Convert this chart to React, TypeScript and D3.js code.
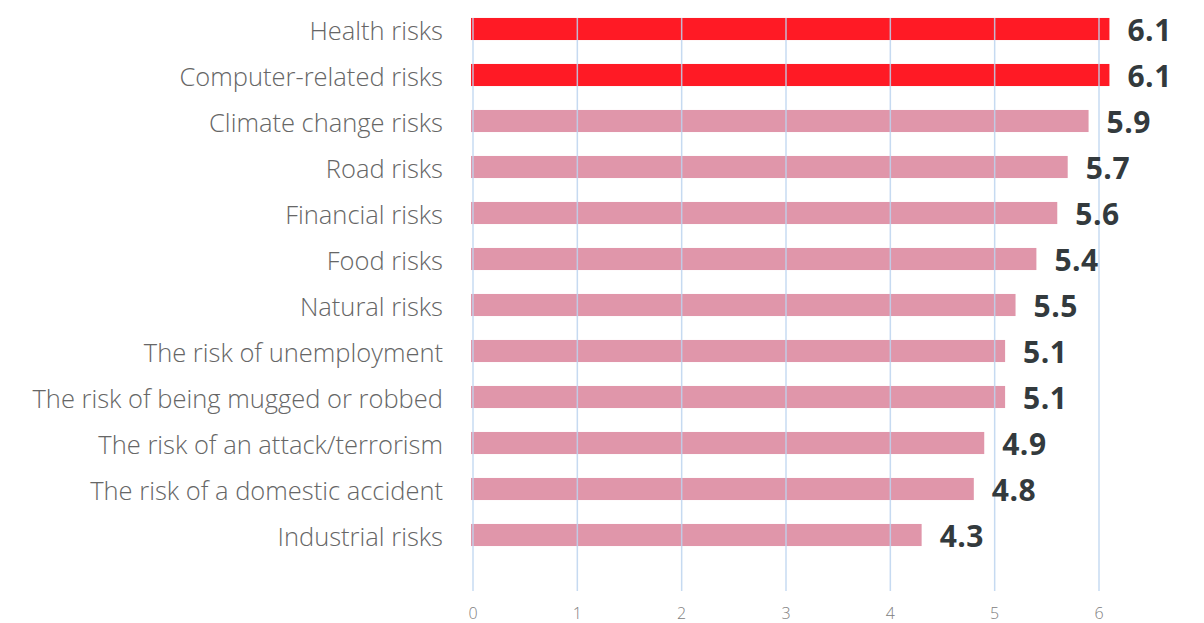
import React, { useEffect, useRef } from "react";
import * as d3 from "d3";

const categories = [
  "Health risks",
  "Computer-related risks",
  "Climate change risks",
  "Road risks",
  "Financial risks",
  "Food risks",
  "Natural risks",
  "The risk of unemployment",
  "The risk of being mugged or robbed",
  "The risk of an attack/terrorism",
  "The risk of a domestic accident",
  "Industrial risks",
];
// bar lengths as drawn
const values = [6.1, 6.1, 5.9, 5.7, 5.6, 5.4, 5.2, 5.1, 5.1, 4.9, 4.8, 4.3];
// printed labels (the Natural risks label differs from its bar)
const valueLabels = ["6.1", "6.1", "5.9", "5.7", "5.6", "5.4", "5.5", "5.1", "5.1", "4.9", "4.8", "4.3"];
const highlighted = ["Health risks", "Computer-related risks"];
const ticks = [0, 1, 2, 3, 4, 5, 6];

const width = 1204;
const height = 623;
const font = "'Source Sans Pro', 'Open Sans', sans-serif";

const App = () => {
  const svgRef = useRef<SVGSVGElement>(null);

  useEffect(() => {
    const svg = d3.select(svgRef.current);
    svg.selectAll("*").remove();

    const x = d3.scaleLinear().domain([0, 6]).range([473, 1099]);
    const y = d3
      .scaleBand()
      .domain(categories)
      .range([6, 558])
      .paddingInner(0.52)
      .paddingOuter(0.26);

    // bars
    svg
      .append("g")
      .selectAll("rect")
      .data(categories)
      .enter()
      .append("rect")
      .attr("x", x(0) - 2)
      .attr("y", (d) => y(d)!)
      .attr("width", (d, i) => x(values[i]) - x(0) + 2)
      .attr("height", y.bandwidth())
      .attr("fill", (d) => (highlighted.includes(d) ? "#ff1a25" : "#e096aa"));

    // grid lines, drawn over the bars
    svg
      .append("g")
      .selectAll("line")
      .data(ticks)
      .enter()
      .append("line")
      .attr("x1", (d) => x(d))
      .attr("x2", (d) => x(d))
      .attr("y1", 18)
      .attr("y2", 591)
      .attr("stroke", "#bcd3ee")
      .attr("stroke-opacity", 0.85)
      .attr("stroke-width", 1.5);

    // tick labels
    svg
      .append("g")
      .selectAll("text")
      .data(ticks)
      .enter()
      .append("text")
      .attr("x", (d) => x(d))
      .attr("y", 619)
      .attr("text-anchor", "middle")
      .attr("font-family", font)
      .attr("font-weight", 300)
      .attr("font-size", 16)
      .attr("fill", "#808080")
      .text((d) => d);

    // category labels
    svg
      .append("g")
      .selectAll("text")
      .data(categories)
      .enter()
      .append("text")
      .attr("x", 443)
      .attr("y", (d) => y(d)! + y.bandwidth() / 2)
      .attr("dy", "0.42em")
      .attr("text-anchor", "end")
      .attr("font-family", font)
      .attr("font-weight", 300)
      .attr("font-size", 25.5)
      .attr("fill", "#666")
      .text((d) => d);

    // value labels
    svg
      .append("g")
      .selectAll("text")
      .data(categories)
      .enter()
      .append("text")
      .attr("x", (d, i) => x(values[i]) + 18)
      .attr("y", (d) => y(d)! + y.bandwidth() / 2)
      .attr("dy", "0.41em")
      .attr("font-family", font)
      .attr("font-weight", 700)
      .attr("font-size", 30)
      .attr("letter-spacing", 0.5)
      .attr("fill", "#333a3d")
      .text((d, i) => valueLabels[i]);
  }, []);

  return (
    <svg
      ref={svgRef}
      width={width}
      height={height}
      style={{ position: "absolute", left: 0, top: 0, background: "#fff" }}
    ></svg>
  );
};

export default App;
